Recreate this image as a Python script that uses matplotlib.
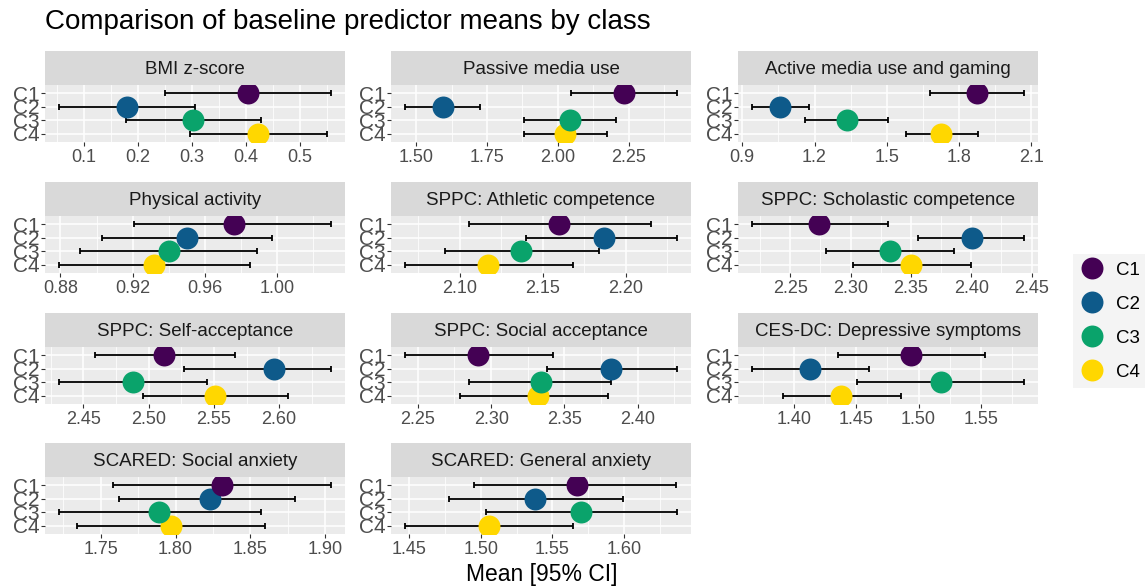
import matplotlib.pyplot as plt
from matplotlib.lines import Line2D
import numpy as np

plt.rcParams['font.family'] = ['Liberation Sans', 'DejaVu Sans']

classes = ['C1', 'C2', 'C3', 'C4']
class_colors = ['#440154', '#0E5A8A', '#0AA36B', '#FFD700']

predictors = [
    'BMI z-score', 'Passive media use', 'Active media use and gaming',
    'Physical activity', 'SPPC: Athletic competence', 'SPPC: Scholastic competence',
    'SPPC: Self-acceptance', 'SPPC: Social acceptance', 'CES-DC: Depressive symptoms',
    'SCARED: Social anxiety', 'SCARED: General anxiety',
]

# one row per predictor, columns C1..C4
mean_values = [
    [0.403, 0.180, 0.302, 0.422],
    [2.235, 1.593, 2.042, 2.026],
    [1.875, 1.056, 1.334, 1.727],
    [0.976, 0.950, 0.940, 0.932],
    [2.160, 2.187, 2.137, 2.117],
    [2.274, 2.401, 2.333, 2.350],
    [2.512, 2.596, 2.488, 2.551],
    [2.291, 2.382, 2.334, 2.332],
    [1.494, 1.413, 1.518, 1.438],
    [1.831, 1.823, 1.789, 1.797],
    [1.567, 1.538, 1.570, 1.506],
]
ci_lower = [
    [0.250, 0.053, 0.177, 0.297],
    [2.045, 1.459, 1.881, 1.881],
    [1.678, 0.939, 1.162, 1.579],
    [0.921, 0.903, 0.891, 0.879],
    [2.106, 2.140, 2.091, 2.067],
    [2.218, 2.356, 2.280, 2.302],
    [2.459, 2.527, 2.431, 2.496],
    [2.241, 2.338, 2.285, 2.279],
    [1.435, 1.366, 1.451, 1.391],
    [1.758, 1.762, 1.722, 1.734],
    [1.495, 1.478, 1.504, 1.447],
]
ci_upper = [
    [0.558, 0.306, 0.427, 0.549],
    [2.422, 1.726, 2.205, 2.173],
    [2.071, 1.176, 1.503, 1.878],
    [1.030, 0.997, 0.989, 0.985],
    [2.215, 2.231, 2.184, 2.168],
    [2.331, 2.444, 2.386, 2.400],
    [2.566, 2.640, 2.545, 2.607],
    [2.342, 2.427, 2.382, 2.380],
    [1.553, 1.460, 1.585, 1.486],
    [1.904, 1.880, 1.857, 1.860],
    [1.636, 1.599, 1.637, 1.564],
]
x_tick_labels = [
    ['0.1', '0.2', '0.3', '0.4', '0.5'],
    ['1.50', '1.75', '2.00', '2.25'],
    ['0.9', '1.2', '1.5', '1.8', '2.1'],
    ['0.88', '0.92', '0.96', '1.00'],
    ['2.10', '2.15', '2.20'],
    ['2.25', '2.30', '2.35', '2.40', '2.45'],
    ['2.45', '2.50', '2.55', '2.60'],
    ['2.25', '2.30', '2.35', '2.40'],
    ['1.40', '1.45', '1.50', '1.55'],
    ['1.75', '1.80', '1.85', '1.90'],
    ['1.45', '1.50', '1.55', '1.60'],
]

W, H = 1145, 588
fig = plt.figure(figsize=(W / 100, H / 100), dpi=100)

col_left = [45, 391, 738]
row_top = [85, 216, 347, 477]
panel_w, panel_h, strip_h = 300, 57, 34


def box(left, top, w, h):
    return [left / W, 1 - (top + h) / H, w / W, h / H]


ypos = np.arange(4, 0, -1)  # C1 on top

for i, name in enumerate(predictors):
    r, c = divmod(i, 3)
    ax = fig.add_axes(box(col_left[c], row_top[r], panel_w, panel_h))
    ax.set_facecolor('#EBEBEB')

    lo, hi = min(ci_lower[i]), max(ci_upper[i])
    pad = 0.05 * (hi - lo)
    ax.set_xlim(lo - pad, hi + pad)
    ax.set_ylim(0.4, 4.6)

    ticks = [float(t) for t in x_tick_labels[i]]
    step = ticks[1] - ticks[0]
    minor = np.arange(ticks[0] - step / 2, ticks[-1] + step, step)
    minor = minor[(minor > lo - pad) & (minor < hi + pad)]
    ax.set_xticks(ticks)
    ax.set_xticklabels(x_tick_labels[i])
    ax.set_xticks(minor, minor=True)
    ax.set_yticks(ypos)
    ax.set_yticklabels(classes)

    ax.grid(which='major', color='white', lw=1.1)
    ax.grid(which='minor', axis='x', color='white', lw=0.55)
    ax.set_axisbelow(True)
    for s in ax.spines.values():
        s.set_visible(False)
    ax.tick_params(which='major', length=3, width=0.8, color='#333333',
                   labelcolor='#4D4D4D', pad=2)
    ax.tick_params(axis='x', labelsize=13)
    ax.tick_params(axis='y', labelsize=15, pad=1)
    ax.tick_params(which='minor', length=0)

    for k in range(4):
        m = mean_values[i][k]
        ax.errorbar(m, ypos[k],
                    xerr=[[m - ci_lower[i][k]], [ci_upper[i][k] - m]],
                    fmt='none', ecolor='black', elinewidth=1.3,
                    capsize=2.5, capthick=1.3, zorder=2)
    # later classes underneath, C1 drawn last
    for k in range(3, -1, -1):
        ax.plot(mean_values[i][k], ypos[k], 'o', ms=15.8, color=class_colors[k],
                mec='none', zorder=3 + (3 - k), clip_on=True)

    sax = fig.add_axes(box(col_left[c], row_top[r] - strip_h, panel_w, strip_h))
    sax.set_facecolor('#D9D9D9')
    sax.set_xticks([])
    sax.set_yticks([])
    for s in sax.spines.values():
        s.set_visible(False)
    sax.text(0.5, 0.47, name, ha='center', va='center', fontsize=13.5,
             color='#1A1A1A', transform=sax.transAxes)

fig.text(45 / W, 1 - 22 / H, 'Comparison of baseline predictor means by class',
         fontsize=20, va='center', ha='left')
fig.text(542 / W, 1 - 575 / H, 'Mean [95% CI]', fontsize=16.5,
         ha='center', va='center')

handles = [Line2D([], [], ls='none', marker='o', ms=15.8, color=col, mec='none')
           for col in class_colors]
leg = fig.legend(handles, classes, loc='center left',
                 bbox_to_anchor=(1073 / W, 1 - 321 / H), frameon=True,
                 fontsize=13.5, labelspacing=0.9, handlelength=1.2,
                 handletextpad=0.7, borderpad=0.4, borderaxespad=0)
leg.get_frame().set_facecolor('#F2F2F2')
leg.get_frame().set_edgecolor('none')
leg.get_frame().set_boxstyle('square', pad=0)

fig.savefig('out.png', dpi=100)
